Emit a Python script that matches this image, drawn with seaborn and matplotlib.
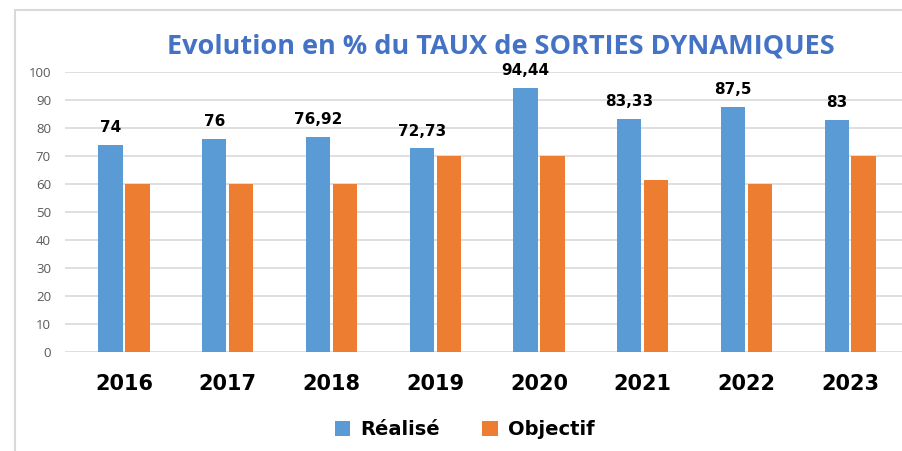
import matplotlib
matplotlib.use("Agg")
import matplotlib.pyplot as plt
import seaborn as sns
import pandas as pd
from matplotlib.patches import Patch, Rectangle

years = ["2016", "2017", "2018", "2019", "2020", "2021", "2022", "2023"]
realise = [74, 76, 76.92, 72.73, 94.44, 83.33, 87.5, 83]
objectif = [60, 60, 60, 70, 70, 61.4, 60, 70]
series = ["Réalisé", "Objectif"]
colors = ["#5B9BD5", "#ED7D31"]

df = pd.DataFrame({
    "Année": years * 2,
    "Valeur": realise + objectif,
    "Série": [series[0]] * len(years) + [series[1]] * len(years),
})

sns.set_theme(style="white")
plt.rcParams["font.family"] = ["DejaVu Sans"]
fig = plt.figure(figsize=(9.02, 4.51), dpi=100)
ax = fig.add_axes([0.072, 0.2195, 0.928, 0.621])

sns.barplot(data=df, x="Année", y="Valeur", hue="Série", palette=colors,
            width=0.52, gap=0.1, ax=ax, legend=False, saturation=1, linewidth=0)

ax.set_ylim(0, 100)
ax.set_xlim(-0.57, 7.5)
ax.set_yticks(range(0, 101, 10))
ax.yaxis.grid(True, color="#D9D9D9", linewidth=1.2)
ax.set_axisbelow(True)
for s in ax.spines.values():
    s.set_visible(False)
ax.set_xlabel("")
ax.set_ylabel("")
ax.tick_params(axis="y", labelsize=9.5, labelcolor="#595959", length=0, pad=10)
ax.tick_params(axis="x", length=0, pad=16)
for lab in ax.get_yticklabels():
    lab.set_family("Open Sans")
for lab in ax.get_xticklabels():
    lab.set_fontsize(15)
    lab.set_fontweight("bold")
    lab.set_color("black")

blue_bars = ax.containers[0]
for bar, v in zip(blue_bars, realise):
    txt = f"{v:g}".replace(".", ",")
    ax.annotate(txt, (bar.get_x() + bar.get_width() / 2, v), xytext=(0, 7),
                textcoords="offset points", ha="center", va="bottom",
                fontsize=11, fontweight="bold", color="black")

fig.text(0.555, 0.898, "Evolution en % du TAUX de SORTIES DYNAMIQUES",
         ha="center", va="center", fontsize=19.5, fontweight="bold",
         color="#4472C4", family="Open Sans")

handles = [Patch(facecolor=c, edgecolor="none") for c in colors]
fig.legend(handles, series, loc="center", bbox_to_anchor=(0.515, 0.048),
           ncol=2, frameon=False, prop={"size": 14, "weight": "bold"},
           labelcolor="black",
           handlelength=0.8, handleheight=0.8, columnspacing=2.2, handletextpad=0.5)

fig.patches.append(Rectangle((15 / 902, -0.1), 1.2, 1.1 - 10 / 451,
                             transform=fig.transFigure, fill=False,
                             edgecolor="#D9D9D9", linewidth=1.5))

fig.savefig("out.png", dpi=100)
